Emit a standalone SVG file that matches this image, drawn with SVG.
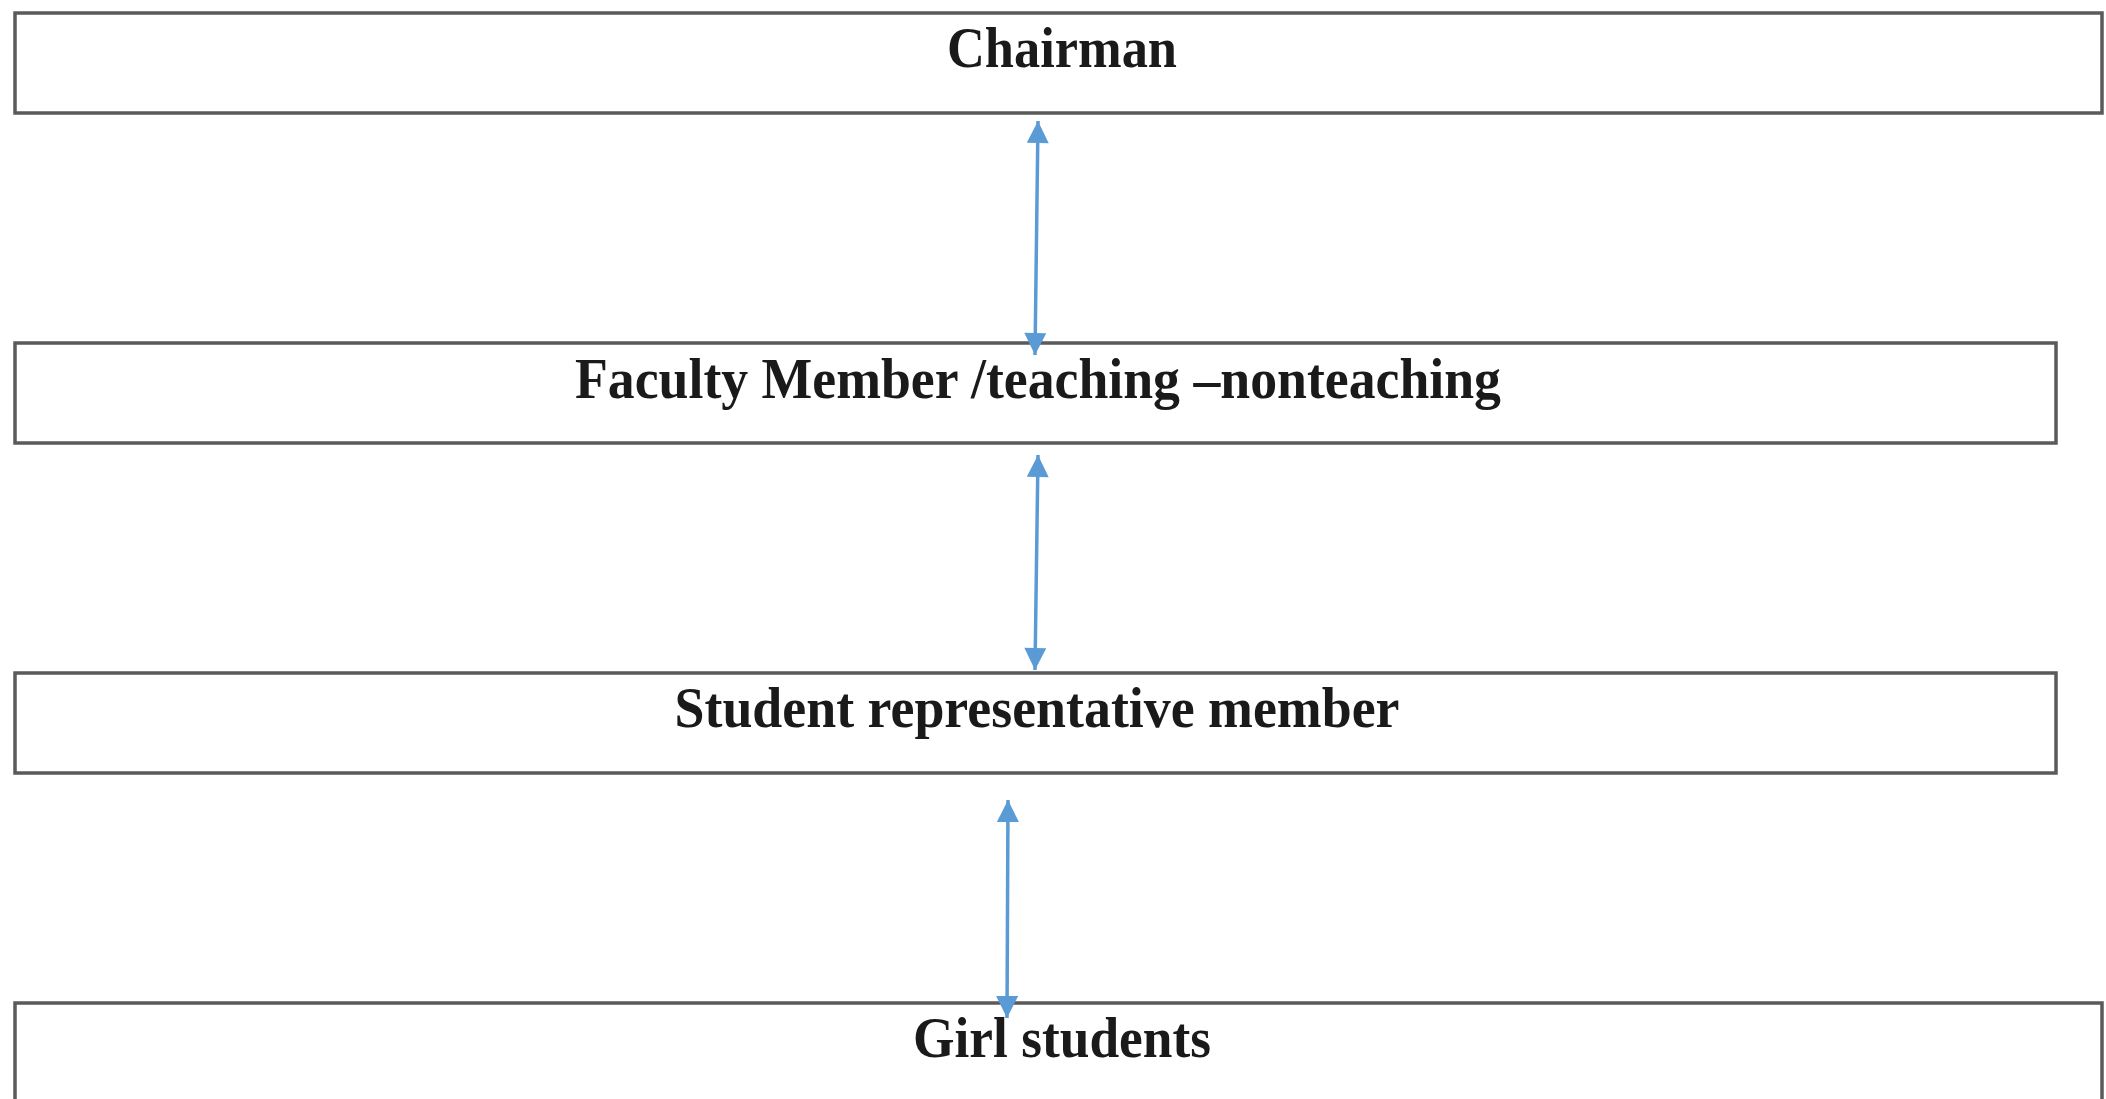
<svg xmlns="http://www.w3.org/2000/svg" width="2106" height="1099" viewBox="0 0 2106 1099">
  <style>
    .box { fill: #ffffff; stroke: #5a5a5a; stroke-width: 3.5; }
    .label { font-family: "Liberation Serif", "Times New Roman", serif; font-weight: bold; font-size: 58px; fill: #1a1a1a; text-anchor: middle; }
    .conn { stroke: #5b9bd5; stroke-width: 3.5; fill: none; marker-start: url(#head); marker-end: url(#head); }
  </style>
  <defs>
    <marker id="head" viewBox="0 0 10 10" refX="10" refY="5" markerUnits="userSpaceOnUse" markerWidth="24" markerHeight="22" orient="auto-start-reverse">
      <path d="M0,0 L10,5 L0,10 z" fill="#5b9bd5"/>
    </marker>
  </defs>
  <rect x="0" y="0" width="2106" height="1099" fill="#ffffff"/>
  <g id="node-chairman">
    <rect class="box" x="15" y="13" width="2087" height="100"/>
    <text class="label" x="1062" y="67" textLength="230" lengthAdjust="spacingAndGlyphs">Chairman</text>
  </g>
  <g id="node-faculty">
    <rect class="box" x="15" y="343" width="2041" height="100"/>
    <text class="label" x="1038" y="398" textLength="926" lengthAdjust="spacingAndGlyphs">Faculty Member /teaching –nonteaching</text>
  </g>
  <g id="node-student-rep">
    <rect class="box" x="15" y="673" width="2041" height="100"/>
    <text class="label" x="1037" y="727" textLength="725" lengthAdjust="spacingAndGlyphs">Student representative member</text>
  </g>
  <g id="node-girl-students">
    <rect class="box" x="15" y="1003" width="2087" height="120"/>
    <text class="label" x="1062" y="1057" textLength="298" lengthAdjust="spacingAndGlyphs">Girl students</text>
  </g>
  <g id="connectors">
    <line class="conn" x1="1038" y1="121" x2="1035" y2="355"/>
    <line class="conn" x1="1038" y1="455" x2="1035" y2="670"/>
    <line class="conn" x1="1008" y1="800" x2="1007" y2="1018"/>
  </g>
</svg>
